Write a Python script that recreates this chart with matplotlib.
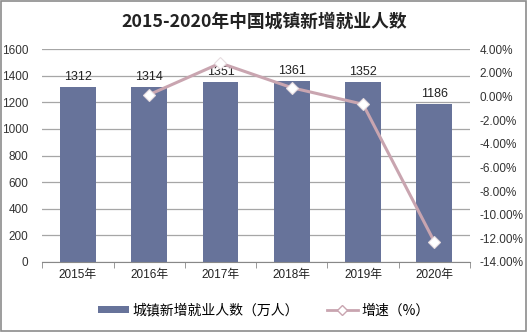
import matplotlib.pyplot as plt
from matplotlib.lines import Line2D
from matplotlib.patches import Patch, Rectangle

plt.rcParams['font.family'] = ['Liberation Sans', 'Noto Sans CJK SC', 'DejaVu Sans']

# Data
years = ['2015年', '2016年', '2017年', '2018年', '2019年', '2020年']
employed = [1312, 1314, 1351, 1361, 1352, 1186]
growth_years = [1, 2, 3, 4, 5]
growth = [0.15, 2.82, 0.74, -0.66, -12.28]
left_ticks = [0, 200, 400, 600, 800, 1000, 1200, 1400, 1600]
right_ticks = [4, 2, 0, -2, -4, -6, -8, -10, -12, -14]

bar_color = '#67739a'
line_color = '#c9a5b0'
grid_color = '#a6a6a6'
cjk = ['Noto Sans CJK SC', 'DejaVu Sans']


def main():
    fig = plt.figure(figsize=(5.28, 3.32), dpi=100)
    ax = fig.add_axes([0.08, 0.211, 0.81, 0.641])

    x = list(range(len(years)))
    ax.bar(x, employed, width=0.5, color=bar_color, zorder=2)
    for xi, v in zip(x, employed):
        ax.text(xi, v + 30, str(v), ha='center', va='bottom', fontsize=9, color='#222222')

    ax.set_ylim(0, 1600)
    ax.set_xlim(-0.5, len(years) - 0.5)
    ax.set_yticks(left_ticks)
    ax.set_yticklabels([str(t) for t in left_ticks], fontsize=8.5, color='#333333')
    ax.tick_params(axis='y', length=0, pad=10)
    ax.yaxis.grid(True, color=grid_color, linewidth=0.9, zorder=0)
    ax.set_axisbelow(True)

    # category labels without ticks; boundary ticks drawn separately
    ax.set_xticks(x)
    ax.set_xticklabels(years, fontsize=8.5, color='#222222')
    ax.tick_params(axis='x', length=0, pad=5)
    ax.set_xticks([i - 0.5 for i in range(len(years) + 1)], minor=True)
    ax.tick_params(axis='x', which='minor', length=4, color='#888888')

    for s in ['left', 'right', 'top']:
        ax.spines[s].set_visible(False)
    ax.spines['bottom'].set_color('#888888')

    ax2 = ax.twinx()
    ax2.plot(growth_years, growth, color=line_color, linewidth=2.2, marker='D', markersize=6,
             markerfacecolor='white', markeredgecolor='#e8dde0', markeredgewidth=0.8, zorder=3)
    ax2.set_ylim(-14, 4)
    ax2.set_yticks(right_ticks)
    ax2.set_yticklabels(['%.2f%%' % t for t in right_ticks], fontsize=8.5, color='#333333')
    ax2.tick_params(axis='y', length=0, pad=7)
    for s in ['left', 'right', 'top', 'bottom']:
        ax2.spines[s].set_visible(False)

    fig.text(0.5, 0.935, '2015-2020年中国城镇新增就业人数', ha='center', va='center',
             fontsize=12.8, fontweight='bold', color='#222222', family=cjk)

    handles = [Patch(facecolor=bar_color, edgecolor='none'),
               Line2D([0], [0], color=line_color, linewidth=2, marker='D', markersize=5,
                      markerfacecolor='white', markeredgecolor=line_color)]
    fig.legend(handles, ['城镇新增就业人数（万人）', '增速（%）'], loc='center', ncol=2,
               bbox_to_anchor=(0.5, 0.065), frameon=False, handlelength=2.2,
               handleheight=0.5, columnspacing=2.0, handletextpad=0.3,
               prop={'family': cjk, 'size': 10})

    fig.patches.append(Rectangle((0.002, 0.003), 0.995, 0.994, transform=fig.transFigure,
                                 fill=False, edgecolor='#8c8c8c', linewidth=1.2))

    fig.savefig('out.png', dpi=100)


if __name__ == "__main__":
    main()
